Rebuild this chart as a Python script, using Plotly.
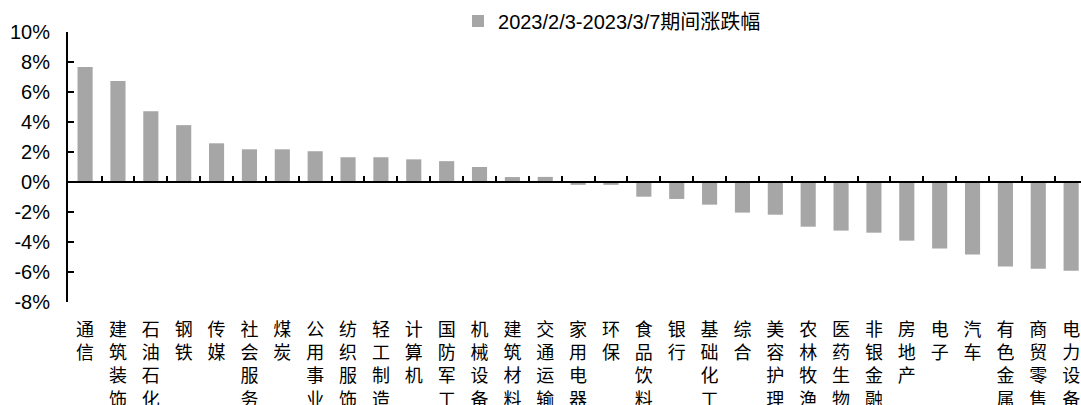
import plotly.graph_objects as go

categories = ["通信", "建筑装饰", "石油石化", "钢铁", "传媒", "社会服务", "煤炭", "公用事业",
              "纺织服饰", "轻工制造", "计算机", "国防军工", "机械设备", "建筑材料", "交通运输",
              "家用电器", "环保", "食品饮料", "银行", "基础化工", "综合", "美容护理", "农林牧渔",
              "医药生物", "非银金融", "房地产", "电子", "汽车", "有色金属", "商贸零售", "电力设备"]
changes = [7.66, 6.73, 4.72, 3.79, 2.58, 2.18, 2.18, 2.05,
           1.65, 1.65, 1.51, 1.39, 1.00, 0.33, 0.34,
           -0.19, -0.19, -0.98, -1.13, -1.51, -2.04, -2.18, -2.98,
           -3.24, -3.38, -3.91, -4.44, -4.84, -5.64, -5.78, -5.91]
series_name = "2023/2/3-2023/3/7期间涨跌幅"
y_tickvals = [-8, -6, -4, -2, 0, 2, 4, 6, 8, 10]
y_ticktext = ["-8%", "-6%", "-4%", "-2%", "0%", "2%", "4%", "6%", "8%", "10%"]

Y_MIN, Y_MAX = -8, 10
labels_vertical = ["<br>".join(list(c)) for c in categories]

FONT = "Liberation Sans, Arial, Noto Sans CJK SC, sans-serif"

fig = go.Figure()
fig.add_trace(go.Bar(
    x=labels_vertical, y=changes, name=series_name,
    marker=dict(color="#A6A6A6", line=dict(width=0)),
))

zero_pos = (0 - Y_MIN) / (Y_MAX - Y_MIN)

fig.update_layout(
    width=1081, height=405,
    margin=dict(l=68, r=0, t=32, b=103, autoexpand=False),
    paper_bgcolor="white", plot_bgcolor="white",
    bargap=0.54,
    font=dict(family=FONT, color="black", size=19),
    showlegend=True,
    legend=dict(orientation="h", x=0.385, xanchor="left", y=1.041, yanchor="middle",
                font=dict(size=20, family=FONT), bgcolor="rgba(0,0,0,0)",
                itemclick=False),
    xaxis=dict(
        type="category", range=[-0.52, 30.30],
        anchor="free", position=zero_pos,
        showline=True, linecolor="black", linewidth=2,
        ticks="inside", tickson="boundaries", ticklen=5, tickwidth=2, tickcolor="black",
        showgrid=False, zeroline=False,
        tickfont=dict(size=18, family=FONT),
        tickangle=0,
        ticklabelstandoff=131,
        automargin=False,
    ),
    yaxis=dict(
        range=[Y_MIN, Y_MAX], tickmode="array", tickvals=y_tickvals, ticktext=y_ticktext,
        showline=True, linecolor="black", linewidth=2,
        ticks="inside", ticklen=6, tickwidth=2, tickcolor="black",
        showgrid=False, zeroline=False,
        tickfont=dict(size=20, family=FONT),
        ticklabelstandoff=12,
        automargin=False,
    ),
)

fig.write_html("out.html")
